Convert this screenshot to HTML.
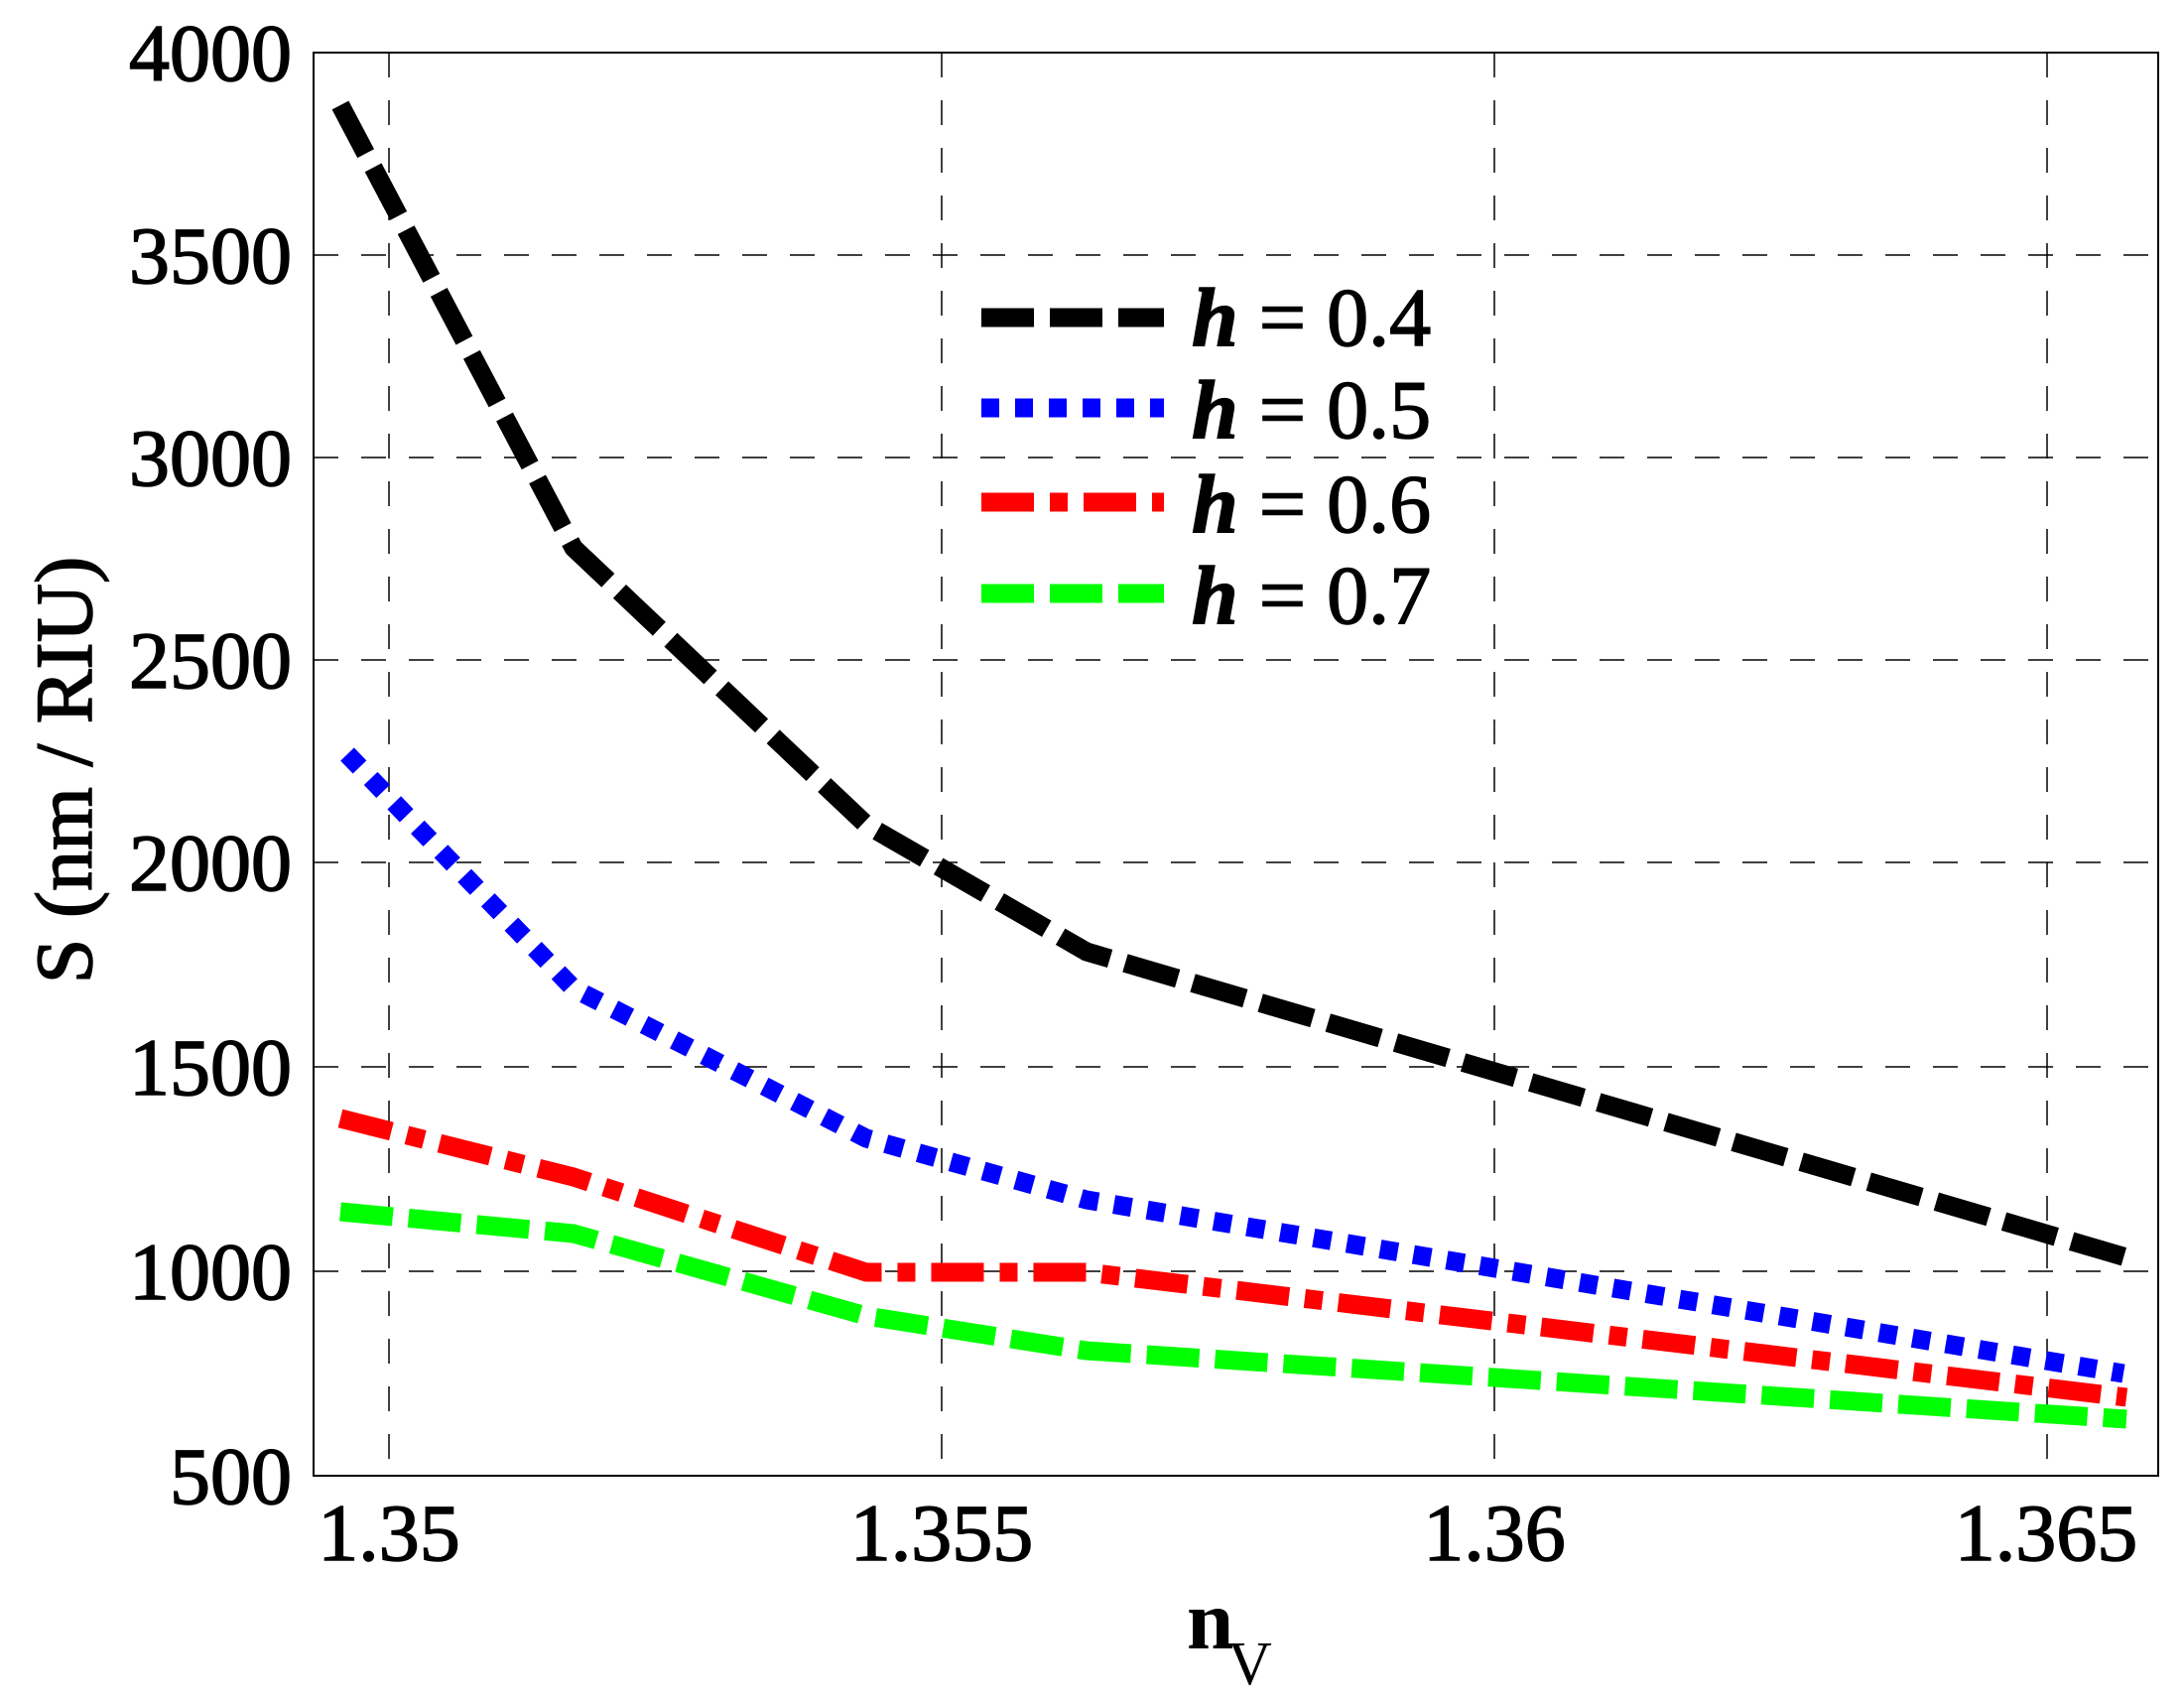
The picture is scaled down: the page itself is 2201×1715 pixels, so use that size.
<!DOCTYPE html>
<html><head><meta charset="utf-8"><style>html,body{margin:0;padding:0;background:#fff}</style></head>
<body>
<svg width="2201" height="1710" viewBox="0 0 2201 1710" xmlns="http://www.w3.org/2000/svg" font-family="Liberation Serif, serif">
<rect width="2201" height="1710" fill="#fff"/>
<g stroke="#000" stroke-width="1.5" stroke-dasharray="25,23" fill="none">
<line x1="316" y1="257" x2="2175" y2="257"/>
<line x1="316" y1="461" x2="2175" y2="461"/>
<line x1="316" y1="665" x2="2175" y2="665"/>
<line x1="316" y1="869" x2="2175" y2="869"/>
<line x1="316" y1="1075" x2="2175" y2="1075"/>
<line x1="316" y1="1281" x2="2175" y2="1281"/>
<line x1="392" y1="53" x2="392" y2="1487"/>
<line x1="949" y1="53" x2="949" y2="1487"/>
<line x1="1506" y1="53" x2="1506" y2="1487"/>
<line x1="2063" y1="53" x2="2063" y2="1487"/>
</g>
<rect x="316" y="53" width="1859" height="1434" fill="none" stroke="#000" stroke-width="2"/>
<g fill="none" stroke-width="19" stroke-linejoin="round">
<polyline stroke="#000" stroke-dasharray="55,16" points="343,106 578,552 873,831 1095,959 2143,1267"/>
<polyline stroke="#00f" stroke-dasharray="18,16" points="350,760 578,996 873,1147 1095,1209 2140,1384"/>
<polyline stroke="#f00" stroke-dasharray="53,16,18,16" points="343,1127 578,1186 873,1282 1095,1282 2143,1408"/>
<polyline stroke="#0f0" stroke-dasharray="53,16" points="343,1221 578,1243 873,1326 1095,1361 2143,1430"/>
</g>
<g stroke-width="19">
<line x1="989" y1="320" x2="1173" y2="320" stroke="#000" stroke-dasharray="53,16"/>
<line x1="989" y1="411" x2="1173" y2="411" stroke="#00f" stroke-dasharray="18,16"/>
<line x1="989" y1="506" x2="1173" y2="506" stroke="#f00" stroke-dasharray="53,16,18,16"/>
<line x1="989" y1="598" x2="1173" y2="598" stroke="#0f0" stroke-dasharray="53,16"/>
</g>
<g font-size="84" stroke="#000" stroke-width="1.5">
<text x="1201" y="348"><tspan font-style="italic" font-weight="bold">h</tspan> = 0.4</text>
<text x="1201" y="441"><tspan font-style="italic" font-weight="bold">h</tspan> = 0.5</text>
<text x="1201" y="536"><tspan font-style="italic" font-weight="bold">h</tspan> = 0.6</text>
<text x="1201" y="628"><tspan font-style="italic" font-weight="bold">h</tspan> = 0.7</text>
</g>
<g font-size="82" text-anchor="end" stroke="#000" stroke-width="1.5">
<text x="294" y="81">4000</text>
<text x="294" y="285">3500</text>
<text x="294" y="489">3000</text>
<text x="294" y="693">2500</text>
<text x="294" y="897">2000</text>
<text x="294" y="1103">1500</text>
<text x="294" y="1309">1000</text>
<text x="294" y="1515">500</text>
</g>
<g font-size="82" text-anchor="middle" stroke="#000" stroke-width="1.5">
<text x="392" y="1572">1.35</text>
<text x="949" y="1572">1.355</text>
<text x="1506" y="1572">1.36</text>
<text x="2062" y="1572">1.365</text>
</g>
<text transform="translate(92,776) rotate(-90)" font-size="82" text-anchor="middle" stroke="#000" stroke-width="1.5">S (nm / RIU)</text>
<text x="1196" y="1661" font-size="85" font-weight="bold">n</text>
<text x="1237" y="1697" font-size="62">V</text>
</svg>
</body></html>
